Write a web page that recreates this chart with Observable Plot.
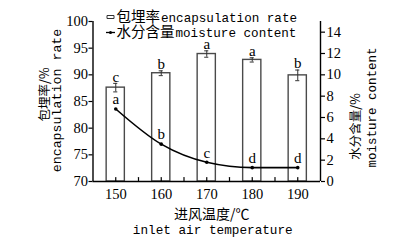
<!DOCTYPE html>
<html>
<head>
<meta charset="utf-8">
<script src="https://cdn.jsdelivr.net/npm/d3@7"></script>
<script src="https://cdn.jsdelivr.net/npm/@observablehq/plot@0.6"></script>
<style>
  html, body { margin: 0; padding: 0; background: white; }
  #chart { width: 400px; height: 249px; overflow: hidden; }
</style>
</head>
<body>
<div id="chart"></div>
<script>
// ---- data ----
const temps = [150, 160, 170, 180, 190];
const encapsulation = [87.6, 90.3, 93.9, 92.8, 89.9];
const encapsulationErr = [0.8, 0.45, 0.6, 0.4, 1.0];
const encapsulationLetters = ["c", "b", "a", "a", "b"];
const moisture = [6.8, 3.5, 1.8, 1.3, 1.3];
const moistureLetters = ["a", "b", "c", "d", "d"];

const xDomain = [145, 195];
const leftDomain = [70, 100];
const rightDomain = [0, 15];
const xTicks = [150, 160, 170, 180, 190];
const xMinorTicks = [150, 155, 160, 165, 170, 175, 180, 185, 190];
const leftTicks = [70, 75, 80, 85, 90, 95, 100];
const rightTicks = [0, 2, 4, 6, 8, 10, 12, 14];

const legendCn = ["包埋率", "水分含量"];
const legendEn = ["encapsulation rate", "moisture content"];
const yTitleLeft = ["包埋率/%", "encapsulation rate"];
const yTitleRight = ["水分含量/%", "moisture content"];
const xTitle = ["进风温度/℃", "inlet air temperature"];

// ---- derived tables ----
const toLeft = d3.scaleLinear().domain(rightDomain).range(leftDomain);
const barHalf = 2;     // bar half width in x units
const capHalf = 0.45;  // error cap half width in x units
const rows = temps.map((t, i) => ({
  t, enc: encapsulation[i], err: encapsulationErr[i], encL: encapsulationLetters[i],
  m: moisture[i], my: toLeft(moisture[i]), mL: moistureLetters[i]
}));

const CN = "Noto Sans CJK SC";
const SERIF = "Liberation Serif";
const MONO = "Liberation Mono";

const rectSymbol = { draw(ctx) { ctx.rect(-3.5, -1.5, 7, 3); } };
const dashSymbol = { draw(ctx) { ctx.moveTo(-4.5, 0); ctx.lineTo(4.5, 0); } };
const tickUp = { draw(ctx, l) { ctx.moveTo(0, 0); ctx.lineTo(0, -l); } };

const txt = (arr, o) => Plot.text(arr, { text: d => d, fill: "black", textAnchor: "middle", lineAnchor: "middle", ...o });

const chart = Plot.plot({
  width: 400,
  height: 249,
  marginTop: 21,
  marginBottom: 68,
  marginLeft: 92.5,
  marginRight: 80,
  style: { fontFamily: SERIF, fontSize: "14.5px", color: "black", background: "white", overflow: "visible" },
  x: { type: "linear", domain: xDomain },
  y: { domain: leftDomain },
  marks: [
    // bars
    Plot.rect(rows, { x1: d => d.t - barHalf, x2: d => d.t + barHalf, y1: leftDomain[0], y2: "enc",
      fill: "white", stroke: "#4a4a4a", strokeWidth: 1.4 }),
    // error bars
    Plot.ruleX(rows, { x: "t", y1: d => d.enc - d.err, y2: d => d.enc + d.err, stroke: "#333", strokeWidth: 1 }),
    Plot.ruleY(rows, { y: d => d.enc + d.err, x1: d => d.t - capHalf, x2: d => d.t + capHalf, stroke: "#333", strokeWidth: 1 }),
    Plot.ruleY(rows, { y: d => d.enc - d.err, x1: d => d.t - capHalf, x2: d => d.t + capHalf, stroke: "#333", strokeWidth: 1 }),
    Plot.text(rows, { x: "t", y: d => d.enc + d.err, text: "encL", lineAnchor: "middle", dy: -6.5,
      fontFamily: SERIF, fontSize: 15, fill: "black" }),
    // moisture line
    Plot.line(rows, { x: "t", y: "my", curve: "monotone-x", stroke: "black", strokeWidth: 1.6 }),
    Plot.dot(rows, { x: "t", y: "my", r: 1.8, fill: "black" }),
    Plot.text(rows, { x: "t", y: "my", text: "mL", lineAnchor: "middle", dy: -9.5,
      fontFamily: SERIF, fontSize: 15, fill: "black" }),
    // axis lines
    Plot.ruleX(xDomain, { stroke: "black", strokeWidth: 1.4 }),
    Plot.ruleY([leftDomain[0]], { stroke: "black", strokeWidth: 1.4 }),
    // inner x ticks
    Plot.vector(xMinorTicks, { x: d => d, frameAnchor: "bottom", length: 4, rotate: 0, anchor: "start",
      shape: tickUp, stroke: "black", strokeWidth: 1.2 }),
    // axes
    Plot.axisX({ ticks: xTicks, tickSize: 0, tickPadding: 7, tickFormat: d => String(d), label: null, fontSize: 14.5, fontFamily: SERIF }),
    Plot.axisY({ anchor: "left", ticks: leftTicks, tickSize: 4, tickPadding: 1, tickFormat: d => String(d), label: null,
      fontSize: 14.5, fontFamily: SERIF, strokeWidth: 1.2 }),
    Plot.axisY({ anchor: "right", ticks: rightTicks.map(toLeft), tickSize: 4, tickPadding: 2, label: null,
      tickFormat: d => String(Math.round(toLeft.invert(d))), fontSize: 14.5, fontFamily: SERIF, strokeWidth: 1.2 }),
    // axis titles
    txt([yTitleLeft[0]], { frameAnchor: "left", rotate: -90, dx: -48.5, dy: -7, fontFamily: CN, fontSize: 12.5 }),
    txt([yTitleLeft[1]], { frameAnchor: "left", rotate: -90, dx: -36.5, dy: -1, fontFamily: MONO, fontSize: 13.3 }),
    txt([yTitleRight[0]], { frameAnchor: "right", rotate: -90, dx: 35, dy: 25, fontFamily: CN, fontSize: 12.5 }),
    txt([yTitleRight[1]], { frameAnchor: "right", rotate: -90, dx: 51, dy: 6, fontFamily: MONO, fontSize: 12.5 }),
    txt([xTitle[0]], { frameAnchor: "bottom", dx: 5, dy: 33, fontFamily: CN, fontSize: 14 }),
    txt([xTitle[1]], { frameAnchor: "bottom", dx: 6, dy: 48, fontFamily: MONO, fontSize: 12.7 }),
    // legend
    Plot.dot([0], { frameAnchor: "top-left", dx: 17.5, dy: -4.5, symbol: rectSymbol, r: 3, fill: "white", stroke: "#333", strokeWidth: 1 }),
    Plot.dot([0], { frameAnchor: "top-left", dx: 17.5, dy: 11, symbol: dashSymbol, r: 3, fill: "none", stroke: "black", strokeWidth: 1.3 }),
    Plot.dot([0], { frameAnchor: "top-left", dx: 17.5, dy: 11, r: 1.5, fill: "black" }),
    txt([legendCn[0]], { frameAnchor: "top-left", dx: 23.5, dy: -4, textAnchor: "start", fontFamily: CN, fontSize: 14.5 }),
    txt([legendCn[1]], { frameAnchor: "top-left", dx: 23.5, dy: 11, textAnchor: "start", fontFamily: CN, fontSize: 14.5 }),
    txt([legendEn[0]], { frameAnchor: "top-left", dx: 68, dy: -4, textAnchor: "start", fontFamily: MONO, fontSize: 12.6 }),
    txt([legendEn[1]], { frameAnchor: "top-left", dx: 82.5, dy: 11, textAnchor: "start", fontFamily: MONO, fontSize: 12.6 })
  ]
});
document.getElementById("chart").append(chart);
</script>
</body>
</html>
